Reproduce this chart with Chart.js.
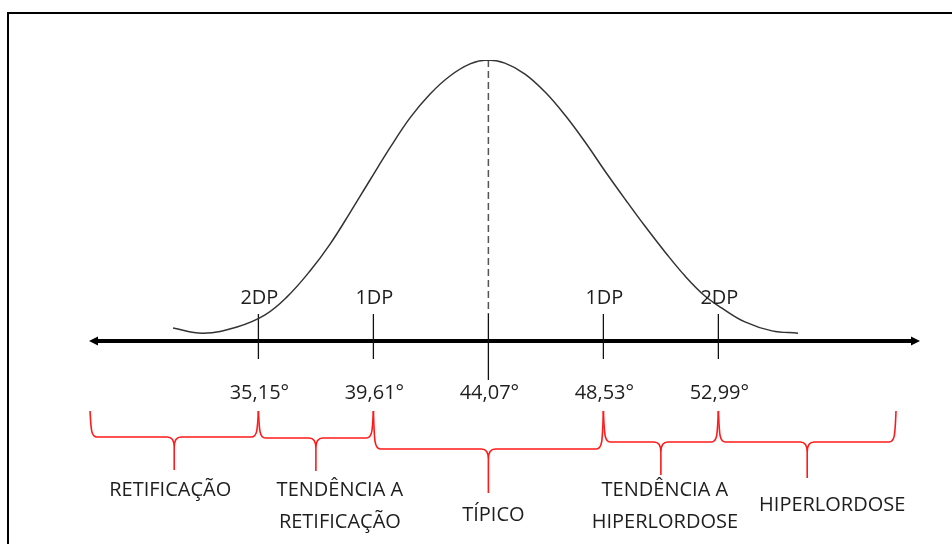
<!DOCTYPE html>
<html>
<head>
<meta charset="utf-8">
<script src="https://cdn.jsdelivr.net/npm/chart.js@4/dist/chart.umd.min.js"></script>
<style>
  html, body { margin: 0; padding: 0; background: #fff; }
  #wrap { position: relative; width: 952px; height: 544px; overflow: hidden; }
  #frame { position: absolute; left: 7px; top: 12px; width: 960px; height: 560px;
           border-top: 2px solid #000; border-left: 2px solid #000; }
  canvas { position: absolute; left: 0; top: 0; }
</style>
</head>
<body>
<div id="wrap">
  <canvas id="c" width="952" height="544"></canvas>
  <div id="frame"></div>
</div>
<script>
// bell curve (x in degrees, y relative to the peak)
var curveX = [31.84, 33.00, 34.32, 35.41, 36.26, 37.15, 37.93, 38.70, 39.48, 40.25,
              41.03, 41.81, 42.58, 43.36, 44.02, 44.71, 45.49, 46.27, 47.04, 47.82,
              48.59, 49.37, 50.14, 50.92, 51.70, 52.47, 53.13, 54.02, 55.07, 56.08];
var curveY = [0.046, 0.028, 0.050, 0.093, 0.157, 0.249, 0.345, 0.456, 0.573, 0.687,
              0.794, 0.879, 0.943, 0.986, 1.000, 0.989, 0.950, 0.886, 0.804, 0.708,
              0.605, 0.505, 0.409, 0.317, 0.231, 0.160, 0.117, 0.068, 0.036, 0.028];

var meanValue = 44.07;
var tickValues = [35.15, 39.61, 44.07, 48.53, 52.99];
var tickLabels = ['35,15°', '39,61°', '44,07°', '48,53°', '52,99°'];
var sdLabels = ['2DP', '1DP', '', '1DP', '2DP'];

var bandEdges = [28.62, 35.15, 39.61, 48.53, 52.99, 59.88];
var bandNames = ['RETIFICAÇÃO', 'TENDÊNCIA A\nRETIFICAÇÃO', 'TÍPICO',
                 'TENDÊNCIA A\nHIPERLORDOSE', 'HIPERLORDOSE'];

var xMin = 28.58, xMax = 60.81;

var FONT = '20px "Open Sans", sans-serif';
var TEXT = '#1e1e1e';
var RED = '#ff1a1a';

// brace look per band: depth of bar, tip, label y and label shift (px, from axis)
var braceLook = [
  { bar: 96,  tip: 129, label: 149, dx: -4 },
  { bar: 97,  tip: 130, label: 149, dx: 24 },
  { bar: 108, tip: 152, label: 174, dx: 5 },
  { bar: 101, tip: 134, label: 149, dx: 4 },
  { bar: 101, tip: 137, label: 164, dx: 25 }
];

function brace(ctx, xa, xb, y0, y1, y2) {
  var xm = (xa + xb) / 2, r = 7;
  ctx.beginPath();
  ctx.moveTo(xa, y0);
  ctx.bezierCurveTo(xa + 1, y1 - 8, xa + 1, y1, xa + r, y1);
  ctx.lineTo(xm - r, y1);
  ctx.quadraticCurveTo(xm, y1, xm, y1 + 10);
  ctx.lineTo(xm, y2);
  ctx.moveTo(xb, y0);
  ctx.bezierCurveTo(xb - 1, y1 - 8, xb - 1, y1, xb - r, y1);
  ctx.lineTo(xm + r, y1);
  ctx.quadraticCurveTo(xm, y1, xm, y1 + 10);
  ctx.stroke();
}

var decor = {
  id: 'decor',
  beforeDatasetsDraw: function(chart) {
    var ctx = chart.ctx, xs = chart.scales.x, ys = chart.scales.y;
    var a = chart.chartArea;
    var axisY = ys.getPixelForValue(0);
    ctx.save();
    // axis with arrows
    ctx.strokeStyle = '#000';
    ctx.fillStyle = '#000';
    ctx.lineWidth = 4;
    ctx.beginPath();
    ctx.moveTo(a.left + 6, axisY);
    ctx.lineTo(a.right - 6, axisY);
    ctx.stroke();
    ctx.beginPath();
    ctx.moveTo(a.left, axisY);
    ctx.lineTo(a.left + 9, axisY - 4.5);
    ctx.lineTo(a.left + 9, axisY + 4.5);
    ctx.closePath();
    ctx.fill();
    ctx.beginPath();
    ctx.moveTo(a.right, axisY);
    ctx.lineTo(a.right - 9, axisY - 4.5);
    ctx.lineTo(a.right - 9, axisY + 4.5);
    ctx.closePath();
    ctx.fill();

    // dashed mean line
    var mx = xs.getPixelForValue(meanValue);
    ctx.strokeStyle = '#555';
    ctx.lineWidth = 1.5;
    ctx.setLineDash([7, 4]);
    ctx.beginPath();
    ctx.moveTo(mx, ys.getPixelForValue(1));
    ctx.lineTo(mx, axisY - 27);
    ctx.stroke();
    ctx.setLineDash([]);

    // ticks
    ctx.strokeStyle = '#111';
    ctx.lineWidth = 1.3;
    tickValues.forEach(function(v) {
      var x = xs.getPixelForValue(v);
      ctx.beginPath();
      ctx.moveTo(x, axisY - 27);
      ctx.lineTo(x, axisY + (v === meanValue ? 39 : 18));
      ctx.stroke();
    });
    ctx.restore();
  },
  afterDatasetsDraw: function(chart) {
    var ctx = chart.ctx, xs = chart.scales.x, ys = chart.scales.y;
    var axisY = ys.getPixelForValue(0);
    ctx.save();
    ctx.font = FONT;
    ctx.fillStyle = TEXT;
    ctx.textAlign = 'center';
    ctx.textBaseline = 'middle';
    tickValues.forEach(function(v, i) {
      var x = xs.getPixelForValue(v);
      if (sdLabels[i]) ctx.fillText(sdLabels[i], x + 1, axisY - 43);
      ctx.fillText(tickLabels[i], x + 1, axisY + 52);
    });

    // braces and category names
    ctx.strokeStyle = RED;
    ctx.lineWidth = 1.6;
    bandNames.forEach(function(name, i) {
      var xa = xs.getPixelForValue(bandEdges[i]);
      var xb = xs.getPixelForValue(bandEdges[i + 1]);
      var lk = braceLook[i];
      brace(ctx, xa, xb, axisY + 70, axisY + lk.bar, axisY + lk.tip);
      var lines = name.split('\n');
      var cx = (xa + xb) / 2 + lk.dx;
      lines.forEach(function(t, j) {
        ctx.fillText(t, cx, axisY + lk.label + j * 32);
      });
    });
    ctx.restore();
  }
};

new Chart(document.getElementById('c'), {
  type: 'line',
  data: {
    datasets: [{
      data: curveX.map(function(x, i) { return { x: x, y: curveY[i] }; }),
      borderColor: '#333',
      borderWidth: 1.5,
      pointRadius: 0,
      fill: false,
      tension: 0.4
    }]
  },
  options: {
    responsive: false,
    animation: false,
    devicePixelRatio: 1,
    layout: { padding: { left: 89, right: 32, top: 60, bottom: 203 } },
    scales: {
      x: { type: 'linear', min: xMin, max: xMax, display: false },
      y: { min: 0, max: 1, display: false }
    },
    plugins: { legend: { display: false }, tooltip: { enabled: false } }
  },
  plugins: [decor]
});
</script>
</body>
</html>
